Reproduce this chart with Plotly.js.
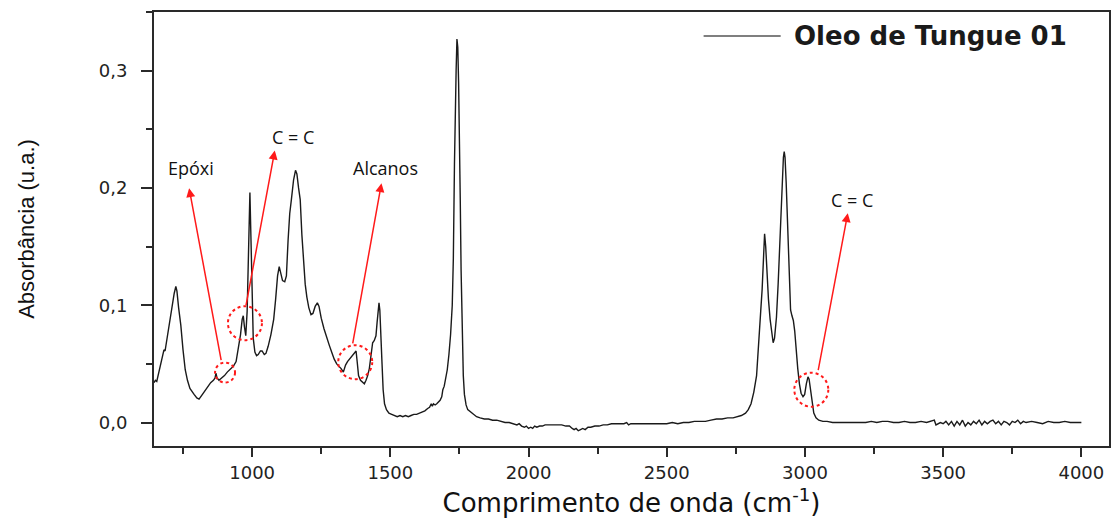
<!DOCTYPE html>
<html>
<head>
<meta charset="utf-8">
<script src="https://cdn.plot.ly/plotly-3.0.1.min.js"></script>
<style>
  html, body { margin: 0; padding: 0; background: #fff; }
  #chart { width: 1113px; height: 519px; }
</style>
</head>
<body>
<div id="chart"></div>
<script>
// FTIR spectrum of tung oil (sample 01): wavenumber (cm-1) and absorbance (a.u.)
const wavenumber = [
  645, 650, 655, 660, 667, 675, 681, 685, 692, 700, 706, 712, 718, 724, 728, 734, 742, 750, 758, 766,
  775, 790, 800, 808, 815, 826, 838, 850, 860, 866, 869, 873, 880, 890, 900, 910, 920, 932, 942, 950,
  958, 964, 968, 972, 977, 982, 986, 989, 992, 995, 997, 1000, 1004, 1010, 1016, 1022, 1030, 1036, 1044, 1050,
  1058, 1068, 1078, 1085, 1092, 1098, 1104, 1110, 1118, 1124, 1130, 1136, 1142, 1150, 1157, 1162, 1168, 1174, 1180, 1186,
  1192, 1198, 1205, 1213, 1220, 1228, 1236, 1242, 1250, 1260, 1270, 1279, 1288, 1297, 1306, 1315, 1322, 1330, 1338, 1345,
  1352, 1360, 1368, 1376, 1380, 1385, 1392, 1400, 1406, 1412, 1418, 1424, 1430, 1436, 1442, 1448, 1452, 1456, 1459, 1462,
  1466, 1470, 1474, 1479, 1486, 1495, 1505, 1515, 1525, 1535, 1545, 1555, 1565, 1575, 1585, 1595, 1605, 1615, 1625, 1635,
  1642, 1648, 1652, 1656, 1662, 1668, 1675, 1680, 1686, 1690, 1695, 1700, 1706, 1712, 1718, 1724, 1728, 1732, 1735, 1738,
  1741, 1744, 1747, 1750, 1753, 1756, 1760, 1764, 1768, 1774, 1780, 1790, 1800, 1812, 1825, 1840, 1855, 1870, 1885, 1900,
  1915, 1930, 1945, 1958, 1966, 1975, 1985, 1992, 2000, 2008, 2015, 2022, 2030, 2040, 2050, 2060, 2075, 2090, 2105, 2120,
  2135, 2148, 2158, 2165, 2172, 2180, 2188, 2196, 2205, 2215, 2225, 2240, 2255, 2270, 2285, 2300, 2315, 2330, 2345, 2355,
  2362, 2370, 2385, 2400, 2420, 2440, 2460, 2480, 2500, 2520, 2540, 2560, 2580, 2600, 2620, 2640, 2660, 2680, 2700, 2720,
  2740, 2755, 2770, 2785, 2795, 2805, 2815, 2825, 2833, 2840, 2845, 2850, 2854, 2858, 2862, 2868, 2874, 2880, 2885, 2890,
  2897, 2903, 2909, 2914, 2918, 2922, 2925, 2928, 2932, 2936, 2940, 2944, 2948, 2953, 2958, 2963, 2968, 2974, 2980, 2986,
  2993, 2999, 3005, 3011, 3015, 3020, 3026, 3032, 3040, 3050, 3065, 3080, 3100, 3120, 3140, 3160, 3180, 3200, 3220, 3240,
  3260, 3280, 3300, 3320, 3340, 3360, 3380, 3400, 3420, 3440, 3460, 3468, 3474, 3480, 3490, 3500, 3510, 3520, 3530, 3540,
  3550, 3560, 3570, 3580, 3590, 3600, 3610, 3620, 3630, 3640, 3650, 3660, 3670, 3680, 3690, 3700, 3710, 3720, 3730, 3740,
  3750, 3760, 3770, 3780, 3790, 3800, 3820, 3840, 3860, 3880, 3900, 3920, 3940, 3960, 3980, 4000
];

const absorbance = [
  0.034, 0.036, 0.035, 0.040, 0.046, 0.055, 0.062, 0.061, 0.072, 0.082, 0.090, 0.100, 0.110, 0.116, 0.112, 0.098, 0.083, 0.062, 0.045, 0.036,
  0.029, 0.024, 0.021, 0.020, 0.022, 0.026, 0.030, 0.034, 0.036, 0.038, 0.042, 0.038, 0.036, 0.038, 0.040, 0.043, 0.045, 0.048, 0.052, 0.062,
  0.075, 0.088, 0.091, 0.082, 0.074, 0.095, 0.130, 0.170, 0.196, 0.165, 0.140, 0.100, 0.072, 0.060, 0.057, 0.058, 0.061, 0.061, 0.058, 0.059,
  0.065, 0.075, 0.088, 0.105, 0.125, 0.133, 0.128, 0.121, 0.120, 0.125, 0.155, 0.178, 0.190, 0.207, 0.215, 0.212, 0.200, 0.190, 0.160, 0.135,
  0.118, 0.107, 0.098, 0.092, 0.093, 0.099, 0.102, 0.099, 0.089, 0.080, 0.072, 0.066, 0.060, 0.054, 0.050, 0.048, 0.046, 0.043, 0.049, 0.052,
  0.054, 0.056, 0.058, 0.061, 0.052, 0.040, 0.036, 0.034, 0.033, 0.036, 0.040, 0.046, 0.058, 0.068, 0.070, 0.074, 0.085, 0.098, 0.102, 0.096,
  0.078, 0.050, 0.028, 0.016, 0.011, 0.008, 0.007, 0.006, 0.005, 0.006, 0.005, 0.006, 0.005, 0.006, 0.007, 0.007, 0.008, 0.009, 0.010, 0.012,
  0.013, 0.016, 0.014, 0.016, 0.015, 0.016, 0.018, 0.019, 0.022, 0.028, 0.031, 0.038, 0.045, 0.058, 0.075, 0.100, 0.140, 0.220, 0.282, 0.300,
  0.327, 0.320, 0.290, 0.250, 0.190, 0.130, 0.070, 0.040, 0.024, 0.015, 0.011, 0.009, 0.007, 0.005, 0.004, 0.003, 0.003, 0.002, 0.002, 0.001,
  0.000, 0.000, -0.001, -0.002, -0.001, -0.003, -0.004, -0.003, -0.005, -0.004, -0.005, -0.003, -0.004, -0.003, -0.003, -0.002, -0.002, -0.002, -0.002, -0.002,
  -0.003, -0.003, -0.005, -0.006, -0.005, -0.007, -0.006, -0.005, -0.006, -0.004, -0.004, -0.003, -0.003, -0.002, -0.002, -0.001, -0.001, -0.001, -0.001, 0.000,
  -0.002, -0.001, -0.001, -0.001, -0.001, -0.001, -0.001, -0.001, -0.001, 0.000, -0.001, 0.000, 0.000, 0.001, 0.001, 0.001, 0.002, 0.003, 0.003, 0.004,
  0.004, 0.005, 0.006, 0.008, 0.011, 0.016, 0.026, 0.040, 0.065, 0.095, 0.113, 0.145, 0.161, 0.150, 0.128, 0.105, 0.088, 0.074, 0.068, 0.072,
  0.090, 0.118, 0.150, 0.185, 0.210, 0.226, 0.231, 0.226, 0.205, 0.175, 0.145, 0.115, 0.096, 0.091, 0.087, 0.078, 0.062, 0.046, 0.033, 0.025,
  0.022, 0.024, 0.033, 0.039, 0.037, 0.028, 0.016, 0.008, 0.004, 0.002, 0.001, 0.001, 0.000, 0.000, 0.000, 0.000, 0.000, 0.000, 0.000, 0.001,
  0.000, 0.001, 0.001, 0.000, 0.000, 0.001, 0.000, 0.000, 0.001, 0.000, 0.001, 0.002, -0.002, -0.001, 0.000, -0.001, 0.001, -0.002, 0.001, -0.003,
  0.001, -0.002, 0.002, -0.003, 0.000, -0.002, 0.001, -0.001, 0.002, -0.002, 0.001, -0.001, 0.001, 0.002, -0.001, 0.001, -0.002, 0.001, 0.000, -0.002,
  0.001, 0.000, 0.002, -0.001, 0.001, 0.000, 0.001, 0.000, -0.001, 0.001, 0.000, 0.000, 0.001, 0.000, 0.000, 0.000
];

// Band annotations: label text, label position, arrow head / tail, marked band (centre + radius in px)
const bandLabels = ['Epóxi', 'C = C', 'Alcanos', 'C = C'];
const labelX = [778, 1148, 1482, 3171];
const labelY = [0.217, 0.2438, 0.2169, 0.190];
const arrowHeadX = [772, 1082, 1468, 3155];
const arrowHeadY = [0.1998, 0.2319, 0.2041, 0.1785];
const arrowTailX = [889, 977, 1363, 3047];
const arrowTailY = [0.052, 0.0989, 0.0662, 0.0435];
const bandX = [902, 974, 1373, 3023];
const bandY = [0.0426, 0.0847, 0.0515, 0.028];
const bandRadius = [10, 17, 17, 17];

const seriesName = 'Oleo de Tungue 01';
const red = '#ff1a1a';
const axisColor = '#2a2a2a';

const trace = {
  x: wavenumber,
  y: absorbance,
  type: 'scatter',
  mode: 'lines',
  name: seriesName,
  line: { color: '#1a1a1a', width: 1.4 },
  showlegend: false,
  hoverinfo: 'x+y'
};

const annotations = [];
const shapes = [];

bandLabels.forEach((t, i) => {
  annotations.push({
    x: labelX[i], y: labelY[i], xref: 'x', yref: 'y',
    text: t, showarrow: false,
    xanchor: 'center', yanchor: 'middle',
    font: { family: 'Open Sans, Noto Sans, sans-serif', size: 18, color: '#111' }
  });
  // red arrow from the marked band up towards its label
  annotations.push({
    x: arrowHeadX[i], y: arrowHeadY[i], xref: 'x', yref: 'y',
    ax: arrowTailX[i], ay: arrowTailY[i], axref: 'x', ayref: 'y',
    text: '', showarrow: true,
    arrowhead: 2, arrowsize: 1.2, arrowwidth: 1.5, arrowcolor: red,
    standoff: 0, startstandoff: 0
  });
  shapes.push({
    type: 'circle', xref: 'x', yref: 'y',
    xsizemode: 'pixel', ysizemode: 'pixel',
    xanchor: bandX[i], yanchor: bandY[i],
    x0: -bandRadius[i], x1: bandRadius[i], y0: -bandRadius[i], y1: bandRadius[i],
    line: { color: red, width: 2, dash: 'dot' }
  });
});

// Legend entry drawn as a line sample plus its label
shapes.push({
  type: 'line', xref: 'paper', yref: 'paper',
  x0: 0.5755, x1: 0.6562, y0: 0.9447, y1: 0.9447,
  line: { color: '#555', width: 1.5 }
});
annotations.push({
  x: 0.6677, y: 0.9447, xref: 'paper', yref: 'paper',
  text: seriesName, showarrow: false,
  xanchor: 'left', yanchor: 'middle',
  font: { family: 'DejaVu Sans, sans-serif', size: 26, weight: 'bold', color: '#1a1a1a' }
});

const layout = {
  width: 1113,
  height: 519,
  margin: { l: 154, r: 4, t: 12, b: 73 },
  paper_bgcolor: '#fff',
  plot_bgcolor: '#fff',
  separators: ', ',
  showlegend: false,
  xaxis: {
    range: [645, 4100],
    tick0: 0, dtick: 500,
    ticks: 'outside', ticklen: 9, tickwidth: 2, tickcolor: axisColor,
    minor: { dtick: 250, tick0: 0, ticks: 'outside', ticklen: 6, tickwidth: 2, tickcolor: axisColor },
    showline: true, linewidth: 2, linecolor: axisColor, mirror: true,
    showgrid: false, zeroline: false,
    tickfont: { family: 'DejaVu Sans, sans-serif', size: 18, color: '#222' },
    title: {
      text: 'Comprimento de onda (cm<sup>-1</sup>)',
      font: { family: 'DejaVu Sans, sans-serif', size: 26, color: '#111' },
      standoff: 12
    }
  },
  yaxis: {
    range: [-0.02, 0.35],
    tick0: 0, dtick: 0.1, tickformat: '.1f',
    ticks: 'outside', ticklen: 11, tickwidth: 2, tickcolor: axisColor,
    minor: { dtick: 0.05, tick0: 0, ticks: 'outside', ticklen: 6, tickwidth: 2, tickcolor: axisColor },
    ticklabelstandoff: 10,
    showline: true, linewidth: 2, linecolor: axisColor, mirror: true,
    showgrid: false, zeroline: false,
    tickfont: { family: 'DejaVu Sans, sans-serif', size: 18, color: '#222' },
    title: {
      text: 'Absorbância (u.a.)',
      font: { family: 'Liberation Sans, Arial, sans-serif', size: 22, color: '#111' },
      standoff: 58
    }
  },
  annotations: annotations,
  shapes: shapes
};

Plotly.newPlot('chart', [trace], layout, { displayModeBar: false, staticPlot: true });
</script>
</body>
</html>
